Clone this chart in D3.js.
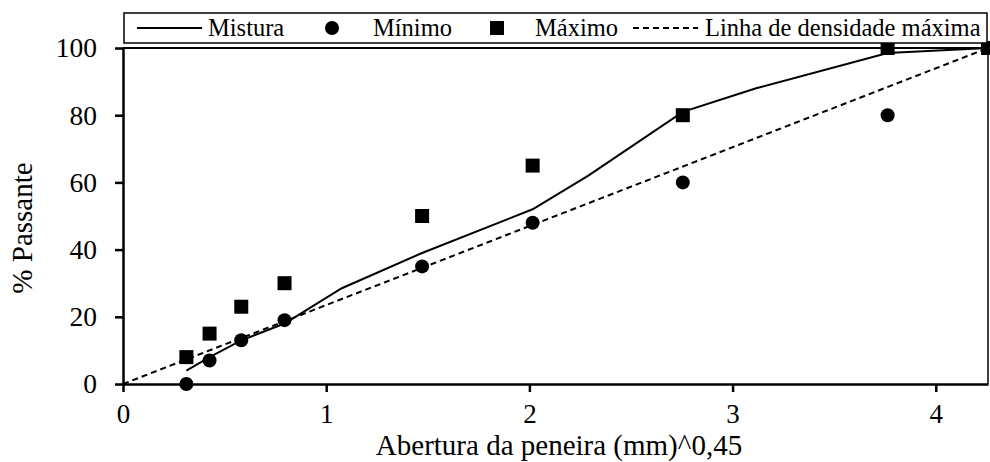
<!DOCTYPE html>
<html>
<head>
<meta charset="utf-8">
<script src="https://cdn.jsdelivr.net/npm/d3@7"></script>
<style>
  body { margin: 0; background: #fff; }
  svg { display: block; }
</style>
</head>
<body>
<svg width="990" height="462"></svg>
<script>
// abertura da peneira (mm)^0,45 : 0.075, 0.15, 0.3, 0.6, 1.18, 2.36, 4.75, 6.3, 9.5, 12.5, 19, 25 mm
const misturaX = [0.312, 0.426, 0.582, 0.795, 1.077, 1.472, 2.016, 2.290, 2.755, 3.116, 3.763, 4.257]
const misturaY = [4, 8, 13, 18, 28.5, 39, 52, 62, 81, 88, 98.5, 100]

// faixa granulometrica
const faixaX = [0.312, 0.426, 0.582, 0.795, 1.472, 2.016, 2.755, 3.763, 4.257]
const minimo = [0, 7, 13, 19, 35, 48, 60, 80, 100]
const maximo = [8, 15, 23, 30, 50, 65, 80, 100, 100]

// linha de densidade maxima
const densX = [0, 4.257]
const densY = [0, 100]

const xTicks = [0, 1, 2, 3, 4]
const yTicks = [0, 20, 40, 60, 80, 100]

const FONT = '"Liberation Serif"'

const svg = d3.select("svg")

const margin = {top: 48, right: 988, bottom: 384, left: 123}

const scaleX = d3.scaleLinear()
    .domain([0, 4.257])
    .range([margin.left, margin.right])

const scaleY = d3.scaleLinear()
    .domain([0, 100])
    .range([margin.bottom, margin.top])

// frame (top and right)
svg.append("line")
    .attr("x1", margin.left).attr("x2", margin.right)
    .attr("y1", margin.top).attr("y2", margin.top)
    .attr("stroke", "#000").attr("stroke-width", 2)
svg.append("line")
    .attr("x1", margin.right).attr("x2", margin.right)
    .attr("y1", margin.top).attr("y2", margin.bottom)
    .attr("stroke", "#000").attr("stroke-width", 1.5)

const yAxis = d3.axisLeft(scaleY)
    .tickValues(yTicks)
    .tickSize(8)
    .tickSizeOuter(0)
    .tickPadding(18)

const xAxis = d3.axisBottom(scaleX)
    .tickValues(xTicks)
    .tickSize(8)
    .tickSizeOuter(0)
    .tickPadding(12)
    .tickFormat(d3.format("d"))

const gy = svg.append("g")
    .attr("transform", `translate(${margin.left},0)`)
    .call(yAxis)
gy.selectAll("text")
    .style("font-family", FONT)
    .style("font-size", "27.5px")
    .attr("fill", "#000")
gy.selectAll("line, path").attr("stroke", "#000").attr("stroke-width", 2.5)

const gx = svg.append("g")
    .attr("transform", `translate(0,${margin.bottom})`)
    .call(xAxis)
gx.selectAll("text")
    .style("font-family", FONT)
    .style("font-size", "27px")
    .attr("fill", "#000")
gx.selectAll("line, path").attr("stroke", "#000").attr("stroke-width", 2.5)

// linhas
const line = d3.line()
    .x(d => scaleX(d[0]))
    .y(d => scaleY(d[1]))

svg.append("path")
    .datum(densX.map((x, i) => [x, densY[i]]))
    .attr("d", line)
    .attr("fill", "none")
    .attr("stroke", "#000")
    .attr("stroke-width", 2)
    .attr("stroke-dasharray", "6,4")

svg.append("path")
    .datum(misturaX.map((x, i) => [x, misturaY[i]]))
    .attr("d", line)
    .attr("fill", "none")
    .attr("stroke", "#000")
    .attr("stroke-width", 2)

// pontos
svg.selectAll("circle.min")
    .data(faixaX.map((x, i) => [x, minimo[i]]))
    .enter()
    .append("circle")
    .attr("class", "min")
    .attr("cx", d => scaleX(d[0]))
    .attr("cy", d => scaleY(d[1]))
    .attr("r", 7)
    .attr("fill", "#000")

const sq = 14
svg.selectAll("rect.max")
    .data(faixaX.map((x, i) => [x, maximo[i]]))
    .enter()
    .append("rect")
    .attr("class", "max")
    .attr("x", d => scaleX(d[0]) - sq/2)
    .attr("y", d => scaleY(d[1]) - sq/2)
    .attr("width", sq)
    .attr("height", sq)
    .attr("fill", "#000")

// titulos
svg.append("text")
    .attr("x", 559)
    .attr("y", 455)
    .attr("text-anchor", "middle")
    .style("font-family", FONT)
    .style("font-size", "29px")
    .text("Abertura da peneira (mm)^0,45")

svg.append("text")
    .attr("transform", "translate(32,228) rotate(-90)")
    .attr("text-anchor", "middle")
    .style("font-family", FONT)
    .style("font-size", "29px")
    .text("% Passante")

// legenda
const leg = svg.append("g")

leg.append("rect")
    .attr("x", 124).attr("y", 13)
    .attr("width", 863).attr("height", 30)
    .attr("fill", "#fff")
    .attr("stroke", "#000")
    .attr("stroke-width", 1.5)

const ly = 28

leg.append("line")
    .attr("x1", 137).attr("x2", 202)
    .attr("y1", ly).attr("y2", ly)
    .attr("stroke", "#000").attr("stroke-width", 2)
leg.append("circle")
    .attr("cx", 332).attr("cy", ly).attr("r", 7)
    .attr("fill", "#000")
leg.append("rect")
    .attr("x", 497 - sq/2).attr("y", ly - sq/2)
    .attr("width", sq).attr("height", sq)
    .attr("fill", "#000")
leg.append("line")
    .attr("x1", 633).attr("x2", 698)
    .attr("y1", ly).attr("y2", ly)
    .attr("stroke", "#000").attr("stroke-width", 2)
    .attr("stroke-dasharray", "6,4")

const legendLabels = ["Mistura", "Mínimo", "Máximo", "Linha de densidade máxima"]
const legendPos = [208, 373, 535, 705]

leg.selectAll("text.leg")
    .data(legendLabels)
    .enter()
    .append("text")
    .attr("class", "leg")
    .attr("x", (d, i) => legendPos[i])
    .attr("y", ly + 8)
    .style("font-family", FONT)
    .style("font-size", "24.5px")
    .text(d => d)
</script>
</body>
</html>
